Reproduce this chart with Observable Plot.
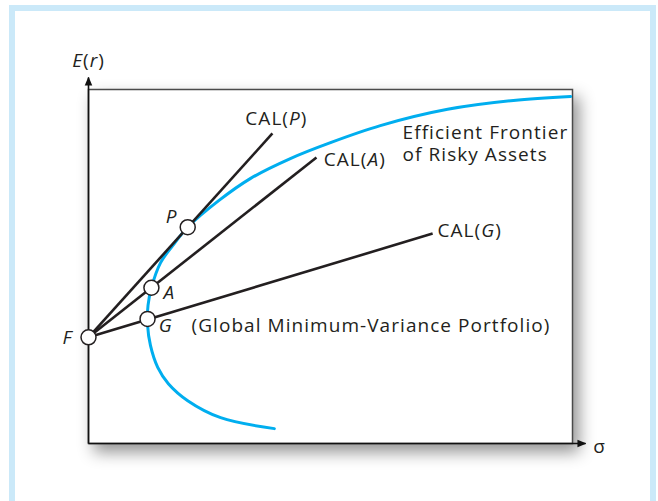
<!DOCTYPE html>
<html><head><meta charset="utf-8">
<script src="https://cdn.jsdelivr.net/npm/d3@7"></script>
<script src="https://cdn.jsdelivr.net/npm/@observablehq/plot@0.6"></script>
<style>
html,body{margin:0;padding:0;background:#fff;width:658px;height:501px;overflow:hidden;}
#box{position:absolute;left:9px;top:5px;width:635px;height:600px;border:6px solid #cbe9f9;border-bottom:none;}
#chart{position:absolute;left:0;top:0;}
#chart text{letter-spacing:1.05px;}
</style></head><body><div id="box"></div><div id="chart"></div>
<script>
// Efficient frontier of risky assets (σ, E(r))
const frontierSigma = [38.4, 27.3, 20.5, 16.5, 14.3, 12.8, 12.2, 12.3, 13.0, 14.9, 17.4, 20.5, 26.9, 33.5, 41.7, 50.0, 60.3, 74.2, 87.8, 99.6];
const frontierER    = [ 4.2,  7.3, 12.1, 16.9, 21.5, 27.7, 33.5, 39.0, 44.0, 51.1, 55.9, 61.1, 68.6, 74.9, 80.5, 85.0, 89.8, 94.4, 96.9, 98.0];

// Marked portfolios: risk-free F, global minimum-variance G, A, optimal P
const pointNames = ["F", "G", "A", "P"];
const pointSigma = [0, 12.2, 13.0, 20.5];
const pointER    = [30, 35.2, 44.0, 61.1];

// Capital allocation lines, drawn from F to their end points
const calNames    = ["CAL(P)", "CAL(A)", "CAL(G)"];
const calEndSigma = [38.0, 47.1, 71.1];
const calEndER    = [87.6, 80.8, 59.3];

// Annotations
const startLabels      = ["CAL(P)", "CAL(A)", "CAL(G)", "Efficient Frontier\nof Risky Assets", "A", "G", "(Global Minimum-Variance Portfolio)", "σ"];
const startLabelSigma  = [32.4, 48.6, 72.1, 64.9, 15.5, 14.5, 21.3, 104.3];
const startLabelER     = [92.1, 80.5, 60.2, 85.0, 42.9, 33.6, 33.6, -0.8];
const endLabels        = ["P", "F"];
const endLabelSigma    = [18.4, -3.3];
const endLabelER       = [64.1, 29.9];
const axisTitle        = ["E(r)"];

const frontier = frontierSigma.map((s, i) => ({sigma: s, er: frontierER[i]}));
const points = pointNames.map((n, i) => ({name: n, sigma: pointSigma[i], er: pointER[i]}));
const cals = calNames.map((n, i) => ({name: n, x1: pointSigma[0], y1: pointER[0], x2: calEndSigma[i], y2: calEndER[i]}));
const sLabels = startLabels.map((t, i) => ({t, sigma: startLabelSigma[i], er: startLabelER[i]}));
const eLabels = endLabels.map((t, i) => ({t, sigma: endLabelSigma[i], er: endLabelER[i]}));

const ink = "#231f20";
const fs = 19;
const plot = Plot.plot({
  width: 658, height: 501,
  marginLeft: 88, marginRight: 86, marginTop: 89, marginBottom: 58,
  x: {domain: [0, 100], axis: null},
  y: {domain: [0, 100], axis: null},
  style: {background: "transparent", overflow: "visible", fontFamily: "'Open Sans', sans-serif"},
  marks: [
    Plot.frame({fill: "white", stroke: "#4a4a4a", strokeWidth: 1.5}),
    Plot.link([0, 1], {x1: 0, y1: 0, x2: (d) => d ? 0 : 102.7, y2: (d) => d ? 103.4 : 0, stroke: "#111", strokeWidth: 1.6}),
    Plot.line(frontier, {x: "sigma", y: "er", curve: "catmull-rom", stroke: "#00aeef", strokeWidth: 3}),
    Plot.link(cals, {x1: "x1", y1: "y1", x2: "x2", y2: "y2", stroke: ink, strokeWidth: 2.6}),
    Plot.dot(points, {x: "sigma", y: "er", r: 7.5, fill: "white", stroke: ink, strokeWidth: 1.5}),
    Plot.text(sLabels, {x: "sigma", y: "er", text: "t", textAnchor: "start", lineHeight: 1.16, fontSize: fs, fill: ink}),
    Plot.text(eLabels, {x: "sigma", y: "er", text: "t", textAnchor: "end", fontSize: fs, fill: ink}),
    Plot.text(axisTitle, {x: 0, y: 108.2, text: (d) => d, textAnchor: "middle", fontSize: fs, fill: ink})
  ]
});
document.getElementById("chart").appendChild(plot);

// drop shadow on the panel
plot.querySelectorAll('[aria-label="frame"]').forEach((el) => {
  el.style.filter = "drop-shadow(6px 8px 8px rgba(0,0,0,0.42))";
});

// filled arrowheads on the axes (first link mark)
const ns = "http://www.w3.org/2000/svg";
const defs = document.createElementNS(ns, "defs");
defs.innerHTML = '<marker id="tri" viewBox="0 0 10 10" refX="9" refY="5" markerWidth="9" markerHeight="9" markerUnits="userSpaceOnUse" orient="auto"><path d="M0,0.8L10,5L0,9.2z" fill="#111"/></marker>';
plot.insertBefore(defs, plot.firstChild);
const linkGroups = plot.querySelectorAll('g[aria-label="link"]');
if (linkGroups.length) linkGroups[0].querySelectorAll("path, line").forEach((p) => p.setAttribute("marker-end", "url(#tri)"));

// italics
plot.querySelectorAll("text").forEach((el) => {
  const s = el.textContent;
  let m;
  if ((m = /^CAL\((\w)\)$/.exec(s))) {
    el.innerHTML = 'CAL(<tspan font-style="italic">' + m[1] + '</tspan>)';
  } else if (/^[PAGF]$/.test(s)) {
    el.setAttribute("font-style", "italic");
  } else if (s === "E(r)") {
    el.innerHTML = '<tspan font-style="italic">E</tspan>(<tspan font-style="italic">r</tspan>)';
  }
});
</script></body></html>
